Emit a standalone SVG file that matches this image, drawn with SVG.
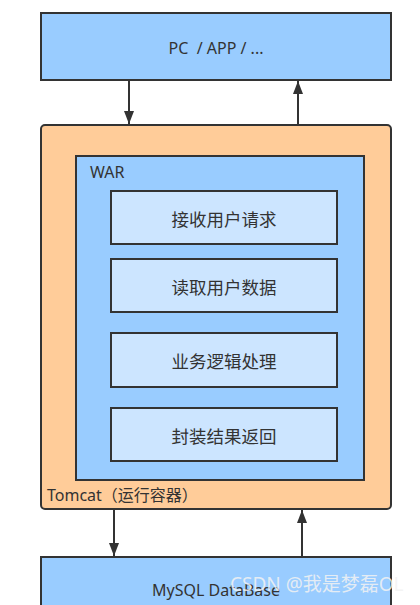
<svg xmlns="http://www.w3.org/2000/svg" width="420" height="605" viewBox="0 0 420 605">
<defs>
<marker id="ah" markerWidth="13" markerHeight="10" refX="13" refY="5" orient="auto" markerUnits="userSpaceOnUse" viewBox="0 0 13 10">
<path d="M0,0 L13,5 L0,10 Z" fill="#333"/>
</marker>
<style>
.box{stroke:#333;stroke-width:2}
.blue{fill:#99ccff}
.orange{fill:#ffcc99}
.light{fill:#cce5ff}
.t{font-family:"Noto Sans","Noto Sans CJK SC",sans-serif;fill:#333;font-size:16px}
.c{font-family:"Noto Sans CJK SC","Noto Sans",sans-serif;fill:#333;font-size:17.5px;text-anchor:middle}
.ln{stroke:#333;stroke-width:2;fill:none}
</style>
</defs>
<rect width="420" height="605" fill="#fff"/>
<g id="client">
<rect class="box blue" x="41" y="13" width="350" height="67"/>
<text class="t" x="216" y="54" text-anchor="middle" font-size="16.5">PC&#160; / APP / ...</text>
</g>
<g id="tomcat">
<rect class="box orange" x="41" y="125" width="350" height="384" rx="4"/>
<text class="t" x="47" y="501">Tomcat（运行容器）</text>
</g>
<g id="war">
<rect class="box blue" x="76" y="156" width="288" height="324"/>
<text class="t" x="90" y="178" font-size="15">WAR</text>
</g>
<g id="step1">
<rect class="box light" x="111" y="191" width="226" height="53"/>
<text class="c" x="224" y="226">接收用户请求</text>
</g>
<g id="step2">
<rect class="box light" x="111" y="259" width="226" height="53"/>
<text class="c" x="224" y="294">读取用户数据</text>
</g>
<g id="step3">
<rect class="box light" x="111" y="333" width="226" height="54"/>
<text class="c" x="224" y="368">业务逻辑处理</text>
</g>
<g id="step4">
<rect class="box light" x="111" y="408" width="226" height="53"/>
<text class="c" x="224" y="443">封装结果返回</text>
</g>
<g id="db">
<rect class="box blue" x="41" y="557" width="350" height="60"/>
<text class="t" x="216" y="596" text-anchor="middle" font-size="20">MySQL DataBase</text>
</g>
<g id="connectors">
<line class="ln" x1="129" y1="81" x2="129" y2="124" marker-end="url(#ah)"/>
<line class="ln" x1="298" y1="124" x2="298" y2="81" marker-end="url(#ah)"/>
<line class="ln" x1="114" y1="510" x2="114" y2="556" marker-end="url(#ah)"/>
<line class="ln" x1="302" y1="556" x2="302" y2="510" marker-end="url(#ah)"/>
</g>
<text x="230" y="591" font-family="Noto Sans, Noto Sans CJK SC, sans-serif" font-size="19" fill="#f2f2f2" fill-opacity="0.85">CSDN @我是梦磊OL</text>
</svg>
